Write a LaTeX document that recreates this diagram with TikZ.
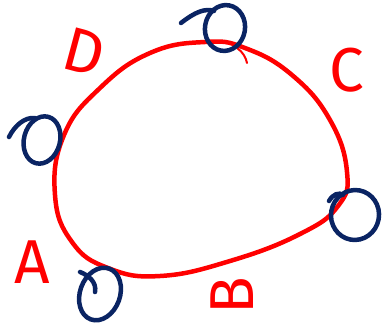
\documentclass[tikz,border=0pt]{standalone}
\usepackage{fontspec}
\setsansfont{Fira Sans}
\usepackage{tikz}

\definecolor{penred}{RGB}{255,0,0}
\definecolor{penblue}{RGB}{10,36,99}

\tikzset{
    loop/.style={penred,line width=4.5pt,line cap=round},
    bead/.style={penblue,line width=4.5pt,line cap=round},
    letter/.style={penred,font=\sffamily\fontsize{62}{62}\selectfont,inner sep=0pt}
}

\begin{document}
\begin{tikzpicture}[x=1pt,y=-1pt]
    \useasboundingbox (0,0) rectangle (388,325);

    % the closed loop
    \draw[loop] plot[smooth cycle,tension=0.75] coordinates {
        (64,135) (100,88) (150,53) (205,42) (245,48) (292,75)
        (330,120) (347,172) (338,206) (300,234) (230,261)
        (160,276) (108,268) (72,242) (55,195)};
    \draw[penred,line width=2pt,line cap=round] (237,48) .. controls (243,52) and (246,58) .. (247,63);

    % beads on the loop
    \draw[bead,rotate around={-10:(225,28)}] (225,28) ellipse (20 and 23);
    \draw[bead] (181,23) .. controls (195,12) and (205,8) .. (214,11);
    \draw[bead,rotate around={-15:(42,140)}] (42,140) ellipse (18 and 24);
    \draw[bead] (9,137) .. controls (15,125) and (25,117) .. (35,118);
    \draw[bead,rotate around={-20:(100,294)}] (100,294) ellipse (20 and 27);
    \draw[bead] (95,292) .. controls (97,282) and (88,275) .. (80,272);
    \draw[bead,rotate around={-10:(355,215)}] (355,215) ellipse (24 and 25);
    \draw[bead] (329,201) .. controls (333,194) and (339,192) .. (343,195);

    % labels
    \node[letter,rotate=-15] (lblD) at (84,52) {D};
    \node[letter] (lblC) at (347,70) {C};
    \node[letter] (lblA) at (32,262) {A};
    \node[letter,rotate=90] (lblB) at (232,296) {B};
\end{tikzpicture}
\end{document}
